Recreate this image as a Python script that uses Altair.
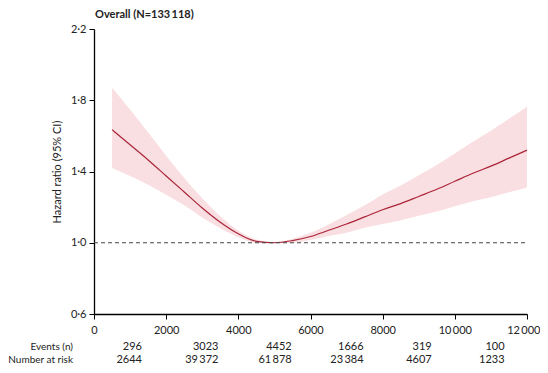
import altair as alt
import pandas as pd

# spline data (x exposure, hazard ratio with 95% CI)
xs = [500, 1000, 1500, 2000, 2500, 3000, 3500, 4000, 4500, 5000, 5500, 6000,
      6500, 7000, 7500, 8000, 8500, 9000, 9500, 10000, 10500, 11000, 11500, 12000]
hr = [1.635, 1.55, 1.465, 1.375, 1.285, 1.195, 1.115, 1.05, 1.008, 1.0, 1.012, 1.035,
      1.07, 1.105, 1.145, 1.185, 1.22, 1.26, 1.30, 1.345, 1.39, 1.43, 1.475, 1.52]
lo = [1.42, 1.375, 1.326, 1.269, 1.21, 1.142, 1.082, 1.031, 1.0, 0.997, 1.0, 1.015,
      1.038, 1.056, 1.084, 1.105, 1.126, 1.152, 1.176, 1.205, 1.233, 1.256, 1.283, 1.31]
hi = [1.87, 1.748, 1.619, 1.489, 1.364, 1.25, 1.149, 1.069, 1.018, 1.003, 1.022, 1.056,
      1.103, 1.156, 1.21, 1.271, 1.321, 1.379, 1.437, 1.501, 1.567, 1.629, 1.696, 1.763]

# risk table
table_x = [1330, 3450, 5480, 7470, 9360, 11380]
events = ["296", "3023", "4452", "1666", "319", "100"]
at_risk = ["2644", "39\u2009372", "61\u2009878", "23\u2009384", "4607", "1233"]
row_labels = ["Events (n)", "Number at risk"]
title_text = "Overall (N=133\u2009118)"

FONT = "Lato"
TXT = "#222"
df = pd.DataFrame({"x": xs, "hr": hr, "lo": lo, "hi": hi})
tdf = pd.DataFrame({"x": table_x, "ev": events, "nr": at_risk})

xscale = alt.Scale(domain=[0, 12000], nice=False)
yscale = alt.Scale(domain=[0.6, 2.2], nice=False)

xaxis = alt.Axis(values=[0, 2000, 4000, 6000, 8000, 10000, 12000],
                 labelExpr="datum.value >= 10000 ? format(datum.value/1000,'d') + '\u2009000' : format(datum.value,'d')",
                 labelAlign={"expr": "datum.value >= 12000 ? 'right' : 'center'"},
                 labelOffset={"expr": "datum.value >= 12000 ? 13 : 0"},
                 title=None, grid=False, domainColor="black", tickColor="black",
                 domainWidth=1.3, tickSize=5, labelColor=TXT, labelFontSize=11,
                 labelFont=FONT, labelPadding=5, labelFlush=False)
yaxis = alt.Axis(values=[0.6, 1.0, 1.4, 1.8, 2.2],
                 labelExpr="replace(format(datum.value,'.1f'),'.','\u00b7')",
                 title="Hazard ratio (95% CI)", titleFont=FONT, titleFontSize=11,
                 titleFontWeight="normal", titleColor=TXT, titlePadding=8,
                 grid=False, domainColor="black", tickColor="black", domainWidth=1.3,
                 tickSize=5, labelColor=TXT, labelFontSize=11, labelFont=FONT,
                 labelPadding=3)

band = alt.Chart(df).mark_area(color="#f9dfe1", interpolate="monotone").encode(
    x=alt.X("x:Q", scale=xscale, axis=xaxis),
    y=alt.Y("lo:Q", scale=yscale, axis=yaxis),
    y2="hi:Q",
)
line = alt.Chart(df).mark_line(color="#ab2539", strokeWidth=1.2, interpolate="monotone").encode(
    x=alt.X("x:Q", scale=xscale),
    y=alt.Y("hr:Q", scale=yscale),
)
ref = alt.Chart(pd.DataFrame({"y": [1.0]})).mark_rule(
    color="#444", strokeDash=[4, 3], strokeWidth=1).encode(
    y=alt.Y("y:Q", scale=yscale), x=alt.value(0), x2=alt.value(433))

ROW1, ROW2 = 321, 334
ev_text = alt.Chart(tdf).mark_text(align="right", baseline="alphabetic", font=FONT,
                                   fontSize=11, color=TXT).encode(
    x=alt.X("x:Q", scale=xscale), y=alt.value(ROW1), text="ev:N")
nr_text = alt.Chart(tdf).mark_text(align="right", baseline="alphabetic", font=FONT,
                                   fontSize=11, color=TXT).encode(
    x=alt.X("x:Q", scale=xscale), y=alt.value(ROW2), text="nr:N")

lab1 = alt.Chart(pd.DataFrame({"t": [row_labels[0]]})).mark_text(
    align="right", baseline="alphabetic", font=FONT, fontSize=10, color=TXT).encode(
    x=alt.value(-21), y=alt.value(ROW1), text="t:N")
lab2 = alt.Chart(pd.DataFrame({"t": [row_labels[1]]})).mark_text(
    align="right", baseline="alphabetic", font=FONT, fontSize=10, color=TXT).encode(
    x=alt.value(-21), y=alt.value(ROW2), text="t:N")
ttl = alt.Chart(pd.DataFrame({"t": [title_text]})).mark_text(
    align="left", baseline="middle", font=FONT, fontSize=11, fontWeight="bold",
    color=TXT).encode(x=alt.value(1), y=alt.value(-14), text="t:N")

chart = alt.layer(band, line, ref, ev_text, nr_text, lab1, lab2, ttl).properties(
    width=433, height=285,
    autosize=alt.AutoSizeParams(type="none"),
    padding={"left": 86, "top": 21, "right": 13, "bottom": 51},
).configure_view(stroke=None)

chart.save("out.html", embed_options={"renderer": "svg", "actions": False})
